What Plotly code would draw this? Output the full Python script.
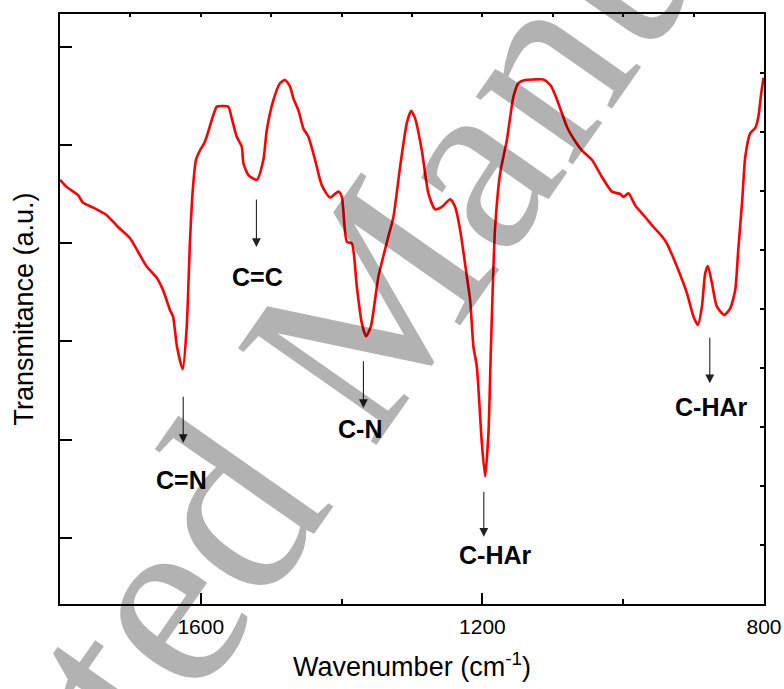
import plotly.graph_objects as go

# ---- data ----
wavenumber = [
    1800, 1790.5, 1774.4, 1767.3, 1753.1, 1733.6, 1717.6, 1700.5, 1689.2, 1676.8,
    1662.6, 1653.6, 1643.7, 1639.4, 1633.8, 1625.7, 1620, 1615.3, 1611.4, 1606.8,
    1601.1, 1594, 1584.5, 1577.3, 1570.2, 1560.9, 1556, 1548.9, 1541.8, 1539.5,
    1532.4, 1520.5, 1511.1, 1506.3, 1496.9, 1487.4, 1480.3, 1473.2, 1468.5, 1461.4,
    1454.3, 1447.2, 1437.7, 1428.2, 1416.4, 1404.6, 1399.7, 1392.6, 1385.5, 1378.4,
    1371.3, 1365.2, 1358.5, 1347.7, 1333.5, 1326.4, 1316.9, 1307.4, 1301.3, 1295.6,
    1286.1, 1276.7, 1267.2, 1257.6, 1245.8, 1238.7, 1231.6, 1222.1, 1217.4, 1212.7,
    1207.9, 1200.8, 1196.1, 1191.4, 1188, 1184.3, 1181.9, 1174.8, 1165.3, 1155.9,
    1148.8, 1139.3, 1127.5, 1113.3, 1103.8, 1096.7, 1087.1, 1080, 1070.7, 1058.7,
    1044.5, 1030.3, 1016.1, 1004.3, 999.6, 992.5, 983, 968.8, 957, 942.8,
    937.9, 923.7, 909.5, 900.1, 893.9, 888.2, 883.5, 879.7, 874, 866.9,
    856.5, 848, 840.9, 836.6, 830.9, 826.6, 819.5, 812.4, 808.1, 803.9, 800.7,
]
transmittance = [
    71.9, 70.7, 69.3, 68.0, 67.2, 65.9, 63.9, 62.0, 59.7, 57.2,
    55.3, 53.2, 49.8, 48.7, 43.6, 39.8, 47.0, 61.7, 70.2, 75.3,
    76.9, 78.4, 82.0, 84.3, 84.4, 84.3, 82.3, 79.2, 77.5, 74.7,
    72.7, 71.9, 75.3, 80.3, 85.4, 88.3, 88.8, 87.7, 85.7, 83.7,
    80.6, 79.2, 75.3, 71.0, 68.9, 69.9, 69.0, 61.4, 61.1, 53.8,
    47.6, 45.4, 47.0, 55.5, 62.3, 65.6, 74.1, 81.5, 83.6, 82.3,
    76.9, 69.6, 66.9, 67.3, 68.6, 67.3, 63.4, 55.5, 51.5, 43.6,
    40.2, 27.3, 21.6, 29.0, 43.1, 57.2, 63.9, 73.0, 78.6, 86.0,
    88.3, 88.8, 88.9, 88.9, 88.0, 86.3, 83.2, 80.9, 78.9, 76.9,
    75.3, 72.4, 69.9, 69.5, 69.0, 69.6, 67.6, 65.6, 63.9, 62.0,
    61.1, 57.2, 52.7, 48.7, 47.3, 50.4, 56.1, 57.3, 54.4, 50.4,
    49.0, 50.1, 53.2, 60.0, 68.5, 75.8, 79.8, 80.7, 82.5, 86.6, 89.2,
]

peak_labels = ["C=N", "C=C", "C-N", "C-HAr", "C-HAr"]
peak_wavenumber = [1625, 1521, 1369, 1198, 877]

# annotation placement (layout only)
arrow_tail_y = [35.4, 68.8, 41.4, 19.3, 45.4]
arrow_tip_y = [27.3, 60.5, 33.2, 11.4, 37.4]
label_x = [1627, 1520, 1374, 1182, 876]
label_y = [21.0, 55.5, 29.7, 8.3, 33.4]

x_tick_vals = [1600, 1200, 800]
x_tick_text = ["1600", "1200", "800"]

FONT = "Arial, 'Liberation Sans', sans-serif"

fig = go.Figure()
fig.add_trace(go.Scatter(
    x=wavenumber, y=transmittance, mode="lines",
    line=dict(color="#ff0000", width=2.6, shape="spline", smoothing=0.6),
    hoverinfo="skip", showlegend=False,
))
# helper trace so the top/right tick axes exist
fig.add_trace(go.Scatter(x=[1000], y=[5], xaxis="x2", yaxis="y2", mode="markers",
                         marker=dict(opacity=0), hoverinfo="skip", showlegend=False))

for lab, px, yt, yh, lx, ly in zip(peak_labels, peak_wavenumber, arrow_tail_y,
                                   arrow_tip_y, label_x, label_y):
    fig.add_annotation(x=px, y=yh, ax=px, ay=yt, xref="x", yref="y",
                       axref="x", ayref="y", text="", showarrow=True,
                       arrowhead=2, arrowsize=1.6, arrowwidth=1.1,
                       arrowcolor="#222222")
    fig.add_annotation(x=lx, y=ly, xref="x", yref="y", text="<b>%s</b>" % lab,
                       showarrow=False, font=dict(family=FONT, size=25, color="black"),
                       xanchor="center", yanchor="middle")

# watermark
fig.add_annotation(x=0.398, y=0.439, xref="paper", yref="paper",
                   text="Accepted Manuscript", showarrow=False, textangle=-55,
                   font=dict(family="'Liberation Serif', 'Times New Roman', serif",
                             size=258, color="rgba(0,0,0,0.3)"),
                   xanchor="center", yanchor="middle")

fig.update_layout(
    width=784, height=689,
    margin=dict(l=60, r=20, t=14, b=85, autoexpand=False),
    paper_bgcolor="white", plot_bgcolor="white",
    font=dict(family=FONT, color="black"),
    xaxis=dict(
        range=[1800, 800], showgrid=False, zeroline=False, automargin=False,
        showline=True, linecolor="black", linewidth=2, mirror=True,
        ticks="inside", tickmode="array", tickvals=x_tick_vals, ticktext=x_tick_text,
        ticklen=11, tickwidth=2, tickcolor="black",
        tickfont=dict(size=21, family=FONT, color="black"),
        ticklabelstandoff=3,
        minor=dict(ticks="inside", tickmode="array", tickvals=[1400, 1000],
                   ticklen=5, tickwidth=2, tickcolor="black", showgrid=False),
        title=dict(text="Wavenumber (cm<sup>-1</sup>)",
                   font=dict(size=27, family=FONT, color="black"), standoff=20),
    ),
    yaxis=dict(
        range=[0, 100], showgrid=False, zeroline=False, automargin=False,
        showline=True, linecolor="black", linewidth=2, mirror=True,
        ticks="inside", tick0=11.2, dtick=16.65, ticklen=12, tickwidth=2,
        tickcolor="black", showticklabels=False,
        title=dict(text="Transmitance (a.u.)",
                   font=dict(size=27, family=FONT, color="black"), standoff=17),
    ),
    xaxis2=dict(
        overlaying="x", side="top", anchor="y2", range=[1800, 800],
        showgrid=False, zeroline=False, showline=False, automargin=False,
        ticks="inside", tick0=800, dtick=100, ticklen=3, tickwidth=1.5,
        tickcolor="black", showticklabels=False,
    ),
    yaxis2=dict(
        overlaying="y", side="right", anchor="x2", range=[0, 10],
        showgrid=False, zeroline=False, showline=False, automargin=False,
        ticks="inside", tick0=0, dtick=1, ticklen=4, tickwidth=1.5,
        tickcolor="black", showticklabels=False,
    ),
)

fig.write_html("out.html",
               config={"displayModeBar": False},
               post_script="document.body.style.margin='0';"
                           "document.body.style.overflow='hidden';")
